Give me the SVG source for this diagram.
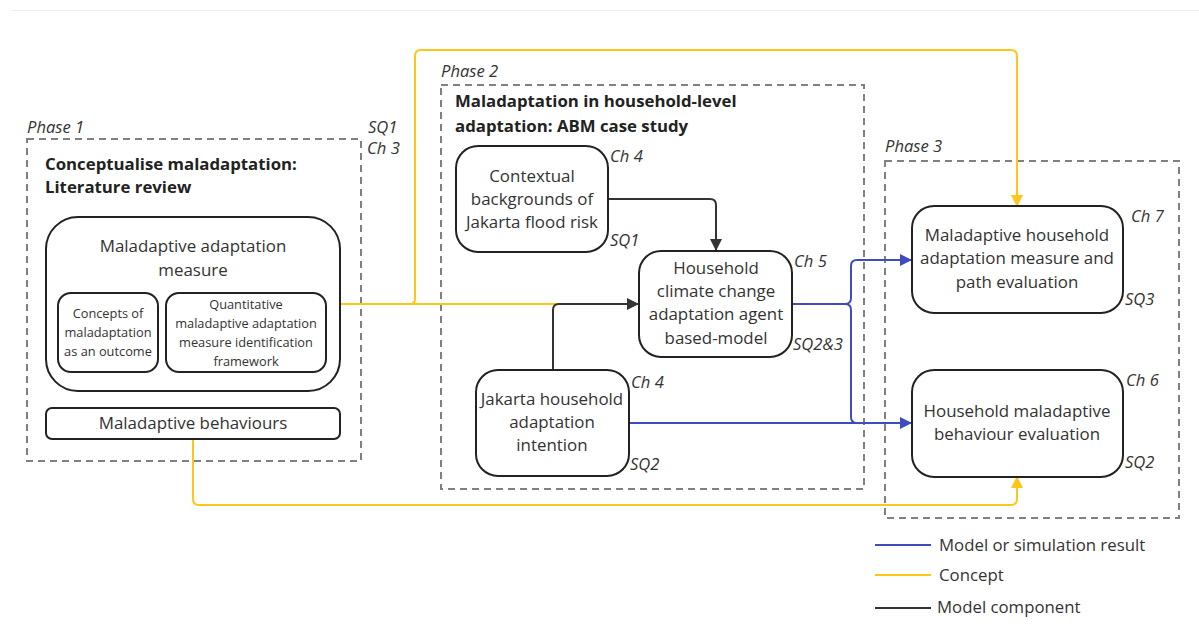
<svg xmlns="http://www.w3.org/2000/svg" width="1199" height="635" viewBox="0 0 1199 635">
<style>
text{font-family:"Open Sans","Noto Sans","Liberation Sans",sans-serif;fill:#333}
.t{font-size:16.9px;text-anchor:middle}
.s{font-size:12.8px;text-anchor:middle}
.b{font-size:16.8px;font-weight:bold;fill:#222}
.i{font-size:16.6px;font-style:italic}
.lg{font-size:16.8px}
.node{fill:#fff;stroke:#222;stroke-width:2}
.phase{fill:none;stroke:#808080;stroke-width:2;stroke-dasharray:7,5}
.y{fill:none;stroke:#FFC619;stroke-width:2}
.bl{fill:none;stroke:#3F4BBF;stroke-width:2}
.k{fill:none;stroke:#333;stroke-width:2}
</style>
<defs>
<marker id="ay" markerWidth="12" markerHeight="12" refX="11" refY="6" orient="auto" markerUnits="userSpaceOnUse"><path d="M0,0L12,6L0,12Z" fill="#FFC619"/></marker>
<marker id="ab" markerWidth="12" markerHeight="12" refX="11" refY="6" orient="auto" markerUnits="userSpaceOnUse"><path d="M0,0L12,6L0,12Z" fill="#3F4BBF"/></marker>
<marker id="ak" markerWidth="12" markerHeight="12" refX="11" refY="6" orient="auto" markerUnits="userSpaceOnUse"><path d="M0,0L12,6L0,12Z" fill="#333"/></marker>
</defs>
<rect width="1199" height="635" fill="#fff"/>
<line x1="11" y1="10.5" x2="1199" y2="10.5" stroke="#eeeeee" stroke-width="1"/>

<g id="phase1">
<rect class="phase" x="27" y="139" width="334" height="322"/>
<text class="i" x="27" y="133">Phase 1</text>
<text class="i" x="368" y="133">SQ1</text>
<text class="i" x="367" y="154">Ch 3</text>
<text class="b" x="45" y="170">Conceptualise maladaptation:</text>
<text class="b" x="45" y="193">Literature review</text>
</g>
<g id="phase2">
<rect class="phase" x="441" y="85" width="423" height="404"/>
<text class="i" x="441" y="77">Phase 2</text>
<text class="b" x="455" y="107">Maladaptation in household-level</text>
<text class="b" x="455" y="132">adaptation: ABM case study</text>
</g>
<g id="phase3">
<rect class="phase" x="885" y="161" width="294" height="357"/>
<text class="i" x="885" y="152">Phase 3</text>
</g>

<g id="connectors">
<path class="y" d="M340,304H410Q415,304 415,299V56Q415,50 421,50H1011Q1017,50 1017,56V206" marker-end="url(#ay)"/>
<path class="y" d="M340,304H630"/>
<path class="y" d="M193,439V499Q193,505 199,505H1011Q1017,505 1017,499V477" marker-end="url(#ay)"/>
<path class="k" d="M608,199H710Q716,199 716,205V250" marker-end="url(#ak)"/>
<path class="k" d="M553,370V310Q553,304 559,304H638" marker-end="url(#ak)"/>
<path class="bl" d="M629,423H911" marker-end="url(#ab)"/>
<path class="bl" d="M792,304H845Q851,304 851,298V266Q851,260 857,260H911" marker-end="url(#ab)"/>
<path class="bl" d="M845,304Q851,304 851,310V417Q851,423 857,423"/>
</g>

<g id="measure">
<rect class="node" x="46" y="217" width="294" height="174" rx="32"/>
<text class="t" x="193" y="252">Maladaptive adaptation</text>
<text class="t" x="193" y="276">measure</text>
</g>
<g id="concepts">
<rect class="node" x="58" y="293" width="100" height="79" rx="13"/>
<text class="s" x="108" y="318">Concepts of</text>
<text class="s" x="108" y="337">maladaptation</text>
<text class="s" x="108" y="356">as an outcome</text>
</g>
<g id="framework">
<rect class="node" x="166" y="293" width="160" height="79" rx="13"/>
<text class="s" x="246" y="309">Quantitative</text>
<text class="s" x="246" y="328">maladaptive adaptation</text>
<text class="s" x="246" y="347">measure identification</text>
<text class="s" x="246" y="366">framework</text>
</g>
<g id="behaviours">
<rect class="node" x="46" y="408" width="294" height="31" rx="6"/>
<text class="t" x="193" y="429">Maladaptive behaviours</text>
</g>

<g id="contextual">
<rect class="node" x="456" y="146" width="152" height="106" rx="22"/>
<text class="t" x="532" y="182">Contextual</text>
<text class="t" x="532" y="205">backgrounds of</text>
<text class="t" x="532" y="228">Jakarta flood risk</text>
<text class="i" x="610" y="162">Ch 4</text>
<text class="i" x="610" y="246">SQ1</text>
</g>
<g id="abm">
<rect class="node" x="639" y="251" width="153" height="106" rx="22"/>
<text class="t" x="716" y="274">Household</text>
<text class="t" x="716" y="297">climate change</text>
<text class="t" x="716" y="320">adaptation agent</text>
<text class="t" x="716" y="344">based-model</text>
<text class="i" x="794" y="267">Ch 5</text>
<text class="i" x="793" y="350">SQ2&amp;3</text>
</g>
<g id="intention">
<rect class="node" x="476" y="370" width="153" height="106" rx="22"/>
<text class="t" x="552" y="405">Jakarta household</text>
<text class="t" x="552" y="428">adaptation</text>
<text class="t" x="552" y="451">intention</text>
<text class="i" x="631" y="388">Ch 4</text>
<text class="i" x="630" y="470">SQ2</text>
</g>

<g id="measure-eval">
<rect class="node" x="912" y="206" width="211" height="107" rx="22"/>
<text class="t" x="1017" y="241">Maladaptive household</text>
<text class="t" x="1017" y="264">adaptation measure and</text>
<text class="t" x="1017" y="288">path evaluation</text>
<text class="i" x="1131" y="222">Ch 7</text>
<text class="i" x="1125" y="305">SQ3</text>
</g>
<g id="behaviour-eval">
<rect class="node" x="912" y="370" width="211" height="107" rx="22"/>
<text class="t" x="1017" y="417">Household maladaptive</text>
<text class="t" x="1017" y="440">behaviour evaluation</text>
<text class="i" x="1126" y="386">Ch 6</text>
<text class="i" x="1125" y="468">SQ2</text>
</g>

<g id="legend">
<line class="bl" x1="875" y1="545" x2="931" y2="545"/>
<text class="lg" x="939" y="551">Model or simulation result</text>
<line class="y" x1="875" y1="575" x2="931" y2="575"/>
<text class="lg" x="939" y="581">Concept</text>
<line class="k" x1="875" y1="608" x2="931" y2="608"/>
<text class="lg" x="937" y="613">Model component</text>
</g>
</svg>
